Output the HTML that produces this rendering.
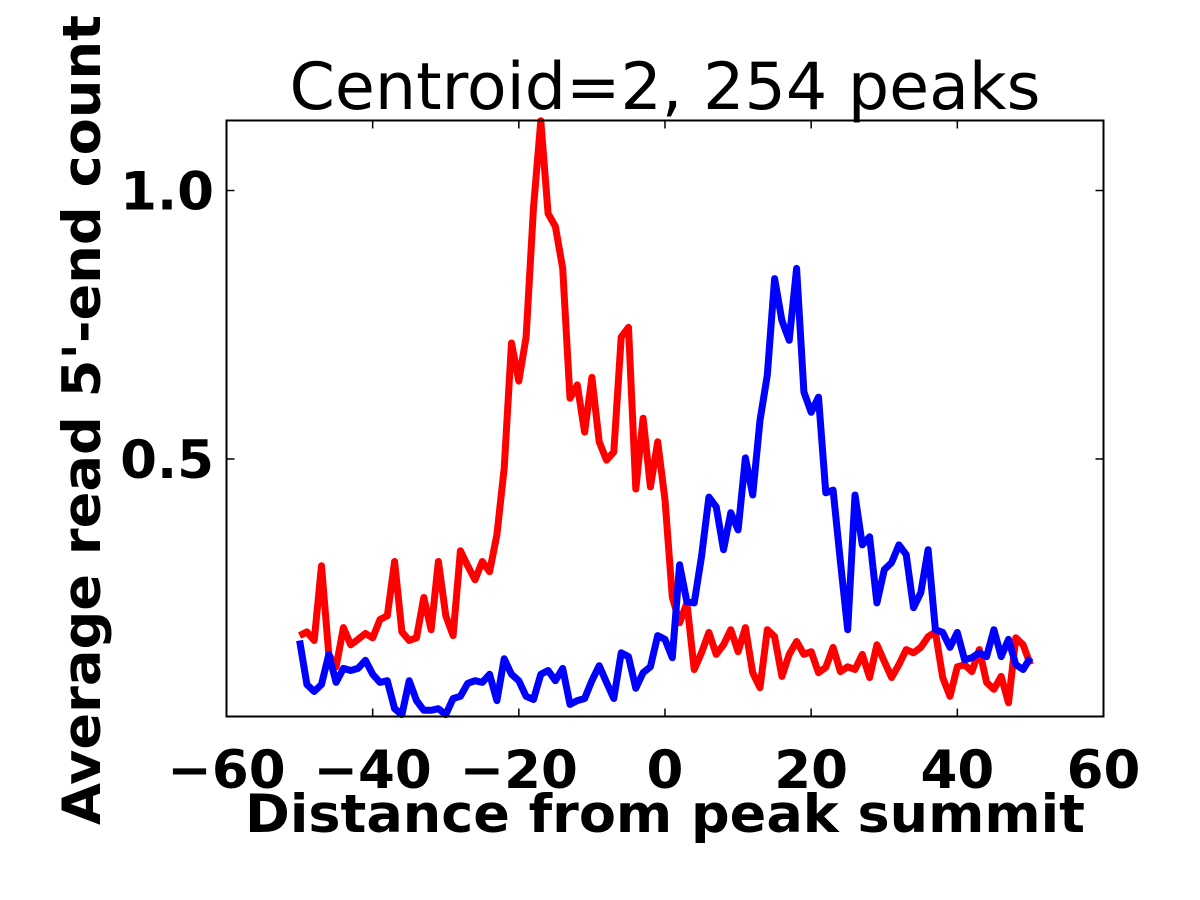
<!DOCTYPE html>
<html><head><meta charset="utf-8"><style>
html,body{margin:0;padding:0;background:#fff;}
svg{display:block;font-family:"DejaVu Sans","Liberation Sans",sans-serif;}
</style></head><body>
<svg id="chart" width="1200" height="900" viewBox="0 0 1200 900">
<rect x="0" y="0" width="1200" height="900" fill="#fff"/>
<text x="665" y="109" font-size="65" text-anchor="middle">Centroid=2, 254 peaks</text>
<g id="series"></g>
<rect x="226.5" y="120.5" width="877" height="596" fill="none" stroke="#000" stroke-width="2"/>
<g id="ticks"></g>
<text x="665" y="832" font-size="53" font-weight="bold" text-anchor="middle" textLength="840" lengthAdjust="spacingAndGlyphs">Distance from peak summit</text>
<text transform="translate(100,420) rotate(-90)" font-size="53" font-weight="bold" text-anchor="middle" textLength="810" lengthAdjust="spacingAndGlyphs">Average read 5'-end count</text>
</svg>
<script>
const positions = [];
for (let i = -50; i <= 50; i++) positions.push(i);
const redValues = [0.171,0.178,0.162,0.301,0.136,0.113,0.186,0.154,0.164,0.175,0.167,0.201,0.208,0.309,0.178,0.162,0.167,0.242,0.182,0.309,0.208,0.171,0.329,0.301,0.275,0.309,0.290,0.359,0.483,0.716,0.645,0.727,0.968,1.130,0.957,0.933,0.855,0.613,0.638,0.550,0.652,0.532,0.498,0.513,0.727,0.745,0.444,0.576,0.448,0.532,0.424,0.243,0.195,0.232,0.108,0.139,0.177,0.136,0.154,0.182,0.141,0.186,0.102,0.074,0.182,0.169,0.095,0.136,0.160,0.136,0.141,0.102,0.112,0.149,0.104,0.113,0.108,0.136,0.093,0.154,0.123,0.093,0.117,0.145,0.139,0.149,0.169,0.178,0.093,0.058,0.113,0.117,0.104,0.145,0.084,0.071,0.095,0.046,0.167,0.154,0.117];
const blueValues = [0.162,0.080,0.067,0.080,0.136,0.084,0.110,0.106,0.110,0.125,0.099,0.084,0.087,0.035,0.024,0.087,0.050,0.032,0.032,0.035,0.024,0.054,0.058,0.082,0.087,0.084,0.099,0.050,0.128,0.099,0.087,0.058,0.052,0.099,0.106,0.087,0.110,0.043,0.050,0.054,0.087,0.115,0.084,0.054,0.139,0.132,0.073,0.102,0.113,0.171,0.164,0.130,0.303,0.234,0.232,0.318,0.429,0.411,0.331,0.400,0.368,0.502,0.433,0.572,0.656,0.836,0.758,0.721,0.855,0.625,0.587,0.615,0.437,0.442,0.309,0.182,0.433,0.340,0.355,0.232,0.294,0.307,0.340,0.322,0.223,0.251,0.331,0.182,0.177,0.149,0.177,0.126,0.130,0.139,0.132,0.182,0.132,0.164,0.117,0.108,0.130];
const xTicks = [-60,-40,-20,0,20,40,60];
const xTickLabels = ["\u221260","\u221240","\u221220","0","20","40","60"];
const yTicks = [0.5,1.0];
const yTickLabels = ["0.5","1.0"];

const X0=226.5, X1=1103.5, Y0=716.5, Y1=120.5;
const xMin=-60, xMax=60, yMin=0.0204, yMax=1.1304;
function sx(v){return X0+(v-xMin)/(xMax-xMin)*(X1-X0);}
function sy(v){return Y0-(v-yMin)/(yMax-yMin)*(Y0-Y1);}
const NS="http://www.w3.org/2000/svg";
const sg=document.getElementById('series');
function line(vals,color,name){
  const p=document.createElementNS(NS,'polyline');
  p.setAttribute('points',vals.map((v,i)=>sx(positions[i]).toFixed(1)+','+sy(v).toFixed(1)).join(' '));
  p.setAttribute('fill','none');p.setAttribute('stroke',color);p.setAttribute('stroke-width','7');
  p.setAttribute('stroke-linejoin','round');
  
  
  sg.appendChild(p);
}
line(redValues,'#ff0000','red-series-line');
line(blueValues,'#0000ff','blue-series-line');
const tg=document.getElementById('ticks');
xTicks.forEach((t,i)=>{
  const x=sx(t);
  [[Y0,Y0-8],[Y1,Y1+8]].forEach(([a,b])=>{
    const l=document.createElementNS(NS,'line');
    l.setAttribute('x1',x);l.setAttribute('x2',x);l.setAttribute('y1',a);l.setAttribute('y2',b);
    l.setAttribute('stroke','#000');l.setAttribute('stroke-width','1.5');
    
    
    tg.appendChild(l);
  });
  const tx=document.createElementNS(NS,'text');
  tx.setAttribute('x',x);tx.setAttribute('y',788);tx.setAttribute('font-size','53');
  tx.setAttribute('font-weight','bold');tx.setAttribute('text-anchor','middle');
  tx.textContent=xTickLabels[i];
  
  
  tg.appendChild(tx);
});
yTicks.forEach((t,i)=>{
  const y=sy(t);
  [[X0,X0+8],[X1,X1-8]].forEach(([a,b])=>{
    const l=document.createElementNS(NS,'line');
    l.setAttribute('x1',a);l.setAttribute('x2',b);l.setAttribute('y1',y);l.setAttribute('y2',y);
    l.setAttribute('stroke','#000');l.setAttribute('stroke-width','1.5');
    
    
    tg.appendChild(l);
  });
  const tx=document.createElementNS(NS,'text');
  tx.setAttribute('x',214);tx.setAttribute('y',y+19);tx.setAttribute('font-size','53');
  tx.setAttribute('font-weight','bold');tx.setAttribute('text-anchor','end');
  tx.textContent=yTickLabels[i];
  
  
  tg.appendChild(tx);
});
</script>
</body></html>
